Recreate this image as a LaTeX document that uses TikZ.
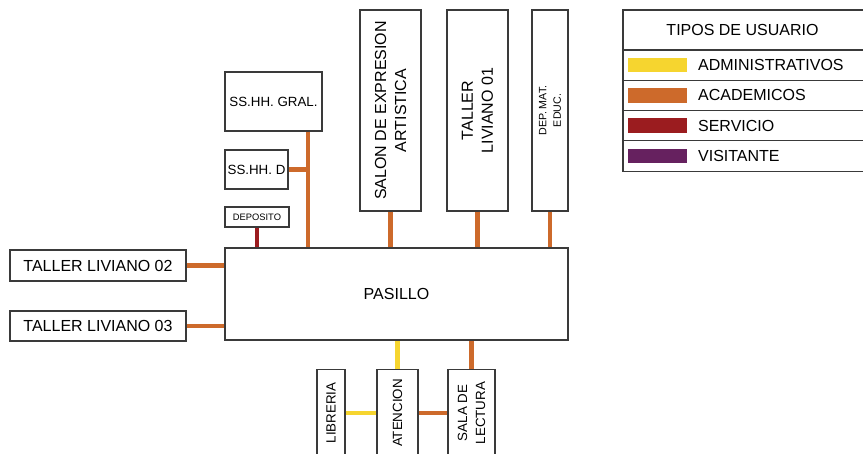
\documentclass[tikz,border=0pt]{standalone}
\usepackage{fontspec}
\setmainfont{Liberation Sans}
\usepackage{xcolor}
\usepackage{tikz}
\usetikzlibrary{positioning}
\definecolor{admCol}{HTML}{F6D52F}
\definecolor{acadCol}{HTML}{CD6A2B}
\definecolor{servCol}{HTML}{9B1C1F}
\definecolor{visCol}{HTML}{66215F}
\definecolor{lineCol}{HTML}{3A3A3A}

\begin{document}
\begin{tikzpicture}[
  x=0.75pt, y=-0.75pt,
  room/.style={draw=lineCol, line width=0.8pt, fill=white, align=center, inner sep=0pt,
               font=\fontsize{12}{15}\selectfont},
  vroom/.style={room, rotate=90},
  acad/.style={draw=acadCol, line width=3.2pt},
  admin/.style={draw=admCol, line width=3.2pt},
  serv/.style={draw=servCol, line width=3.2pt},
  legrow/.style={draw=lineCol, line width=0.8pt, outer sep=0pt, minimum width=183.75pt,
                 minimum height=22.7pt, inner sep=0pt},
  swatch/.style={minimum width=44pt, minimum height=11pt, inner sep=0pt},
  legtxt/.style={font=\fontsize{12}{14}\selectfont, inner sep=0pt, anchor=west},
]
\useasboundingbox (0,0) rectangle (863,453);
\clip (0,0) rectangle (863,453);

% ---- Pasillo central ----
\node[room, minimum width=257.25pt, minimum height=69pt] (pas) at (396.5,294) {PASILLO};

% ---- Servicios higienicos y deposito ----
\node[room, font=\fontsize{10}{12}\selectfont, minimum width=72.75pt, minimum height=44.25pt] (gral) at (273.5,101.5) {SS.HH. GRAL.};
\node[room, font=\fontsize{10}{12}\selectfont, minimum width=47.25pt, minimum height=29.25pt] (ssd) at (256.5,169.5) {SS.HH. D};
\node[room, font=\fontsize{7}{8}\selectfont, minimum width=48pt, minimum height=15pt] (dep) at (257,217) {DEPOSITO};
\coordinate (jn) at (308,169.5);

% ---- Ambientes verticales (arriba) ----
\node[vroom, minimum width=150.75pt, minimum height=45.75pt] (salon) at (390.5,110.5) {SALON DE EXPRESION\\ARTISTICA};
\node[vroom, minimum width=150.75pt, minimum height=45.75pt] (tl01) at (477.5,110.5) {TALLER\\LIVIANO 01};
\node[vroom, font=\fontsize{8}{11}\selectfont, minimum width=150.75pt, minimum height=27pt] (depmat) at (550,110.5) {DEP. MAT.\\EDUC.};

% ---- Talleres (izquierda) ----
\node[room, minimum width=132pt, minimum height=23.25pt] (tl02) at (98,265.5) {TALLER LIVIANO 02};
\node[room, minimum width=132pt, minimum height=22.5pt] (tl03) at (98,326) {TALLER LIVIANO 03};

% ---- Ambientes inferiores ----
\node[vroom, font=\fontsize{10}{13.5}\selectfont, minimum width=65pt, minimum height=21pt] (lib) at (331,413) {LIBRERIA};
\node[vroom, font=\fontsize{10}{13.5}\selectfont, minimum width=65pt, minimum height=30.75pt] (aten) at (397.5,413) {ATENCION};
\node[vroom, font=\fontsize{10}{13.5}\selectfont, minimum width=65pt, minimum height=35.25pt] (sala) at (471.5,413) {SALA DE\\LECTURA};

% ---- Conexiones ----
\draw[acad] (gral.south -| jn) -- (pas.north -| jn);
\draw[acad] (ssd.east) -- (jn);
\draw[serv] (dep.south) -- (dep.south |- pas.north);
\draw[acad] (salon) -- (salon |- pas.north);
\draw[acad] (tl01) -- (tl01 |- pas.north);
\draw[acad] (depmat) -- (depmat |- pas.north);
\draw[acad] (tl02) -- (tl02 -| pas.west);
\draw[acad] (tl03) -- (tl03 -| pas.west);
\draw[admin] (aten) -- (aten |- pas.south);
\draw[acad] (sala) -- (sala |- pas.south);
\draw[admin] (lib) -- (aten);
\draw[acad] (aten) -- (sala);

% ---- Leyenda ----
\node[legrow, minimum height=30pt, font=\fontsize{12}{14}\selectfont] (legT) at (745.5,30) {};
\node[font=\fontsize{12}{14}\selectfont, inner sep=0pt] (legTxt) at (742.5,30) {TIPOS DE USUARIO};
\node[legrow, below=0pt of legT] (legA) {};
\node[legrow, below=0pt of legA] (legB) {};
\node[legrow, below=0pt of legB] (legC) {};
\node[legrow, below=0pt of legC] (legD) {};

\node[swatch, fill=admCol,  anchor=west] (swA) at ([xshift=3.75pt]legA.west) {};
\node[swatch, fill=acadCol, anchor=west] (swB) at ([xshift=3.75pt]legB.west) {};
\node[swatch, fill=servCol, anchor=west] (swC) at ([xshift=3.75pt]legC.west) {};
\node[swatch, fill=visCol,  anchor=west] (swD) at ([xshift=3.75pt]legD.west) {};

\node[legtxt] (txA) at ([xshift=8pt]swA.east) {ADMINISTRATIVOS};
\node[legtxt] (txB) at ([xshift=8pt]swB.east) {ACADEMICOS};
\node[legtxt] (txC) at ([xshift=8pt]swC.east) {SERVICIO};
\node[legtxt] (txD) at ([xshift=8pt]swD.east) {VISITANTE};

\end{tikzpicture}
\end{document}
